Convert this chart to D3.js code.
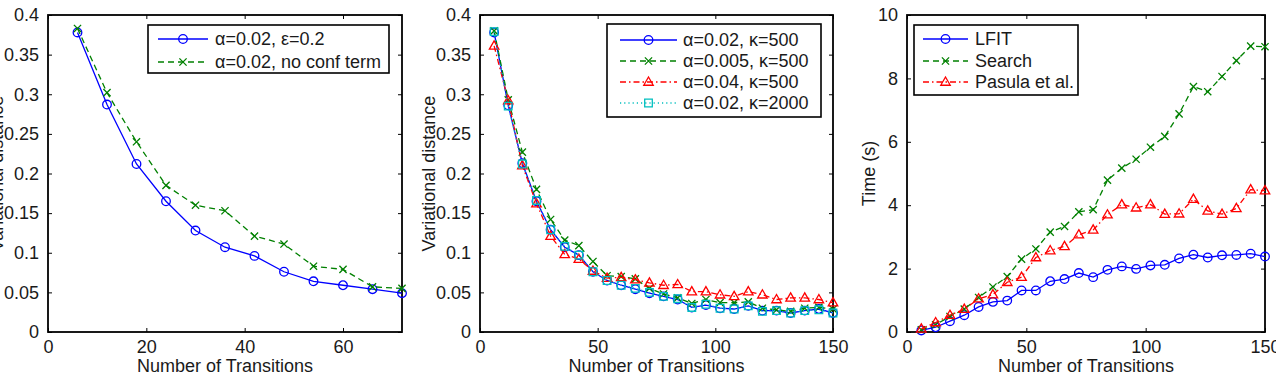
<!DOCTYPE html>
<html>
<head>
<meta charset="utf-8">
<script src="https://cdn.jsdelivr.net/npm/d3@7"></script>
<style>
  html, body { margin: 0; padding: 0; background: #fff; overflow: hidden; }
  svg { display: block; font-family: "Liberation Sans", Arial, Helvetica, sans-serif; }
</style>
</head>
<body>
<svg id="chart" width="1276" height="375"></svg>
<script>
// ---------- DATA ----------
const transitionsA = [6, 12, 18, 24, 30, 36, 42, 48, 54, 60, 66, 72];
const transitionsB = [6, 12, 18, 24, 30, 36, 42, 48, 54, 60, 66, 72, 78, 84, 90, 96, 102, 108, 114, 120, 126, 132, 138, 144, 150];

// Panel 1
const p1_eps02   = [0.378, 0.287, 0.212, 0.165, 0.128, 0.107, 0.096, 0.076, 0.064, 0.059, 0.054, 0.049];
const p1_noConf  = [0.383, 0.302, 0.240, 0.185, 0.160, 0.153, 0.121, 0.111, 0.083, 0.079, 0.057, 0.055];

// Panel 2
const p2_a002_k500  = [0.378, 0.286, 0.213, 0.165, 0.129, 0.107, 0.097, 0.076, 0.065, 0.059, 0.054, 0.049, 0.045, 0.041, 0.031, 0.034, 0.030, 0.029, 0.033, 0.027, 0.027, 0.024, 0.027, 0.029, 0.024];
const p2_a0005_k500 = [0.380, 0.293, 0.227, 0.180, 0.142, 0.116, 0.109, 0.089, 0.071, 0.070, 0.067, 0.055, 0.048, 0.043, 0.036, 0.041, 0.037, 0.037, 0.038, 0.030, 0.028, 0.026, 0.030, 0.031, 0.029];
const p2_a004_k500  = [0.361, 0.292, 0.210, 0.162, 0.121, 0.098, 0.092, 0.077, 0.068, 0.069, 0.066, 0.062, 0.059, 0.060, 0.051, 0.051, 0.047, 0.045, 0.051, 0.047, 0.041, 0.043, 0.043, 0.041, 0.037];
const p2_a002_k2000 = [0.379, 0.285, 0.212, 0.166, 0.129, 0.108, 0.097, 0.076, 0.065, 0.059, 0.055, 0.050, 0.045, 0.042, 0.031, 0.035, 0.030, 0.029, 0.033, 0.026, 0.027, 0.024, 0.027, 0.028, 0.024];

// Panel 3
const p3_lfit   = [0.05, 0.15, 0.34, 0.53, 0.79, 0.95, 0.99, 1.31, 1.31, 1.60, 1.67, 1.86, 1.73, 1.96, 2.07, 1.99, 2.10, 2.12, 2.32, 2.44, 2.35, 2.42, 2.43, 2.47, 2.38];
const p3_search = [0.07, 0.23, 0.49, 0.72, 1.09, 1.42, 1.75, 2.30, 2.62, 3.15, 3.33, 3.79, 3.86, 4.79, 5.17, 5.45, 5.83, 6.17, 6.88, 7.74, 7.58, 8.06, 8.56, 9.02, 9.00];
const p3_pasula = [0.10, 0.30, 0.53, 0.72, 1.05, 1.18, 1.57, 1.73, 2.35, 2.57, 2.70, 3.07, 3.22, 3.70, 4.02, 3.92, 4.02, 3.72, 3.73, 4.19, 3.82, 3.72, 3.90, 4.49, 4.46];

// Ticks
const xTicksA = [0, 20, 40, 60];
const xTicksB = [0, 50, 100, 150];
const yTicksDist = [0, 0.05, 0.1, 0.15, 0.2, 0.25, 0.3, 0.35, 0.4];
const yTickLabelsDist = ["0", "0.05", "0.1", "0.15", "0.2", "0.25", "0.3", "0.35", "0.4"];
const yTicksTime = [0, 2, 4, 6, 8, 10];
const yTickLabelsTime = ["0", "2", "4", "6", "8", "10"];

// Text
const xTitle = "Number of Transitions";
const yTitleDist = "Variational distance";
const yTitleTime = "Time (s)";
const legend1 = ["α=0.02, ε=0.2", "α=0.02, no conf term"];
const legend2 = ["α=0.02, κ=500", "α=0.005, κ=500", "α=0.04, κ=500", "α=0.02, κ=2000"];
const legend3 = ["LFIT", "Search", "Pasula et al."];

// ---------- STYLES ----------
const S = {
  blue:  { color: "#0000ff", dash: null,        marker: "circle"   },
  green: { color: "#008000", dash: "6,4",       marker: "cross"    },
  red:   { color: "#ff0000", dash: "6,3,1.5,3", marker: "triangle" },
  cyan:  { color: "#00bfbf", dash: "1.2,3",     marker: "square"   }
};

const svg = d3.select("#chart");
const FONT = 18;
const TEXT = "#1a1a1a";

function markerPath(type, x, y) {
  const p = d3.path();
  if (type === "circle") {
    const r = 4.3;
    p.moveTo(x + r, y); p.arc(x, y, r, 0, 2 * Math.PI);
  } else if (type === "cross") {
    const r = 3.6;
    p.moveTo(x - r, y - r); p.lineTo(x + r, y + r);
    p.moveTo(x - r, y + r); p.lineTo(x + r, y - r);
  } else if (type === "triangle") {
    const r = 5;
    p.moveTo(x, y - r); p.lineTo(x + r * 0.95, y + r * 0.65); p.lineTo(x - r * 0.95, y + r * 0.65); p.closePath();
  } else if (type === "square") {
    const r = 3.8;
    p.rect(x - r, y - r, 2 * r, 2 * r);
  }
  return p.toString();
}

function drawPanel(cfg) {
  const g = svg.append("g");
  const x = d3.scaleLinear().domain(cfg.xDomain).range([cfg.left, cfg.right]);
  const y = d3.scaleLinear().domain(cfg.yDomain).range([cfg.bottom, cfg.top]);
  const tl = 4;

  // axes via d3 axis generators (inward ticks)
  const axB = d3.axisBottom(x).tickValues(cfg.xTicks).tickSize(-tl).tickPadding(tl + 4).tickFormat(d3.format("d"));
  const axT = d3.axisTop(x).tickValues(cfg.xTicks).tickSize(-tl).tickFormat("");
  const axL = d3.axisLeft(y).tickValues(cfg.yTicks).tickSize(-tl).tickPadding(tl + 5).tickFormat((d, i) => cfg.yLabels[i]);
  const axR = d3.axisRight(y).tickValues(cfg.yTicks).tickSize(-tl).tickFormat("");

  const style = sel => {
    sel.select(".domain").remove();
    sel.selectAll(".tick line").attr("stroke", "#000").attr("stroke-width", 1);
    sel.selectAll(".tick text").attr("fill", TEXT).style("font-size", FONT + "px")
      .style("font-family", '"Liberation Sans", Arial, sans-serif');
  };
  g.append("g").attr("transform", `translate(0,${cfg.bottom})`).call(axB).call(style);
  g.append("g").attr("transform", `translate(0,${cfg.top})`).call(axT).call(style);
  g.append("g").attr("transform", `translate(${cfg.left},0)`).call(axL).call(style);
  g.append("g").attr("transform", `translate(${cfg.right},0)`).call(axR).call(style);

  g.append("rect")
    .attr("x", cfg.left).attr("y", cfg.top)
    .attr("width", cfg.right - cfg.left).attr("height", cfg.bottom - cfg.top)
    .attr("fill", "none").attr("stroke", "#000").attr("stroke-width", 1.8);

  // titles
  g.append("text").attr("x", (cfg.left + cfg.right) / 2).attr("y", 372)
    .attr("text-anchor", "middle").attr("fill", TEXT).style("font-size", FONT + "px").text(xTitle);
  g.append("text")
    .attr("transform", `translate(${cfg.yTitleX},${(cfg.top + cfg.bottom) / 2}) rotate(-90)`)
    .attr("text-anchor", "middle").attr("fill", TEXT).style("font-size", FONT + "px").text(cfg.yTitle);

  // series
  const line = d3.line().x(d => x(d[0])).y(d => y(d[1]));
  cfg.series.forEach(s => {
    const pts = cfg.xs.map((v, i) => [v, s.values[i]]);
    const st = S[s.style];
    g.append("path").attr("d", line(pts)).attr("fill", "none")
      .attr("stroke", st.color).attr("stroke-width", 1.3)
      .attr("stroke-dasharray", st.dash);
    g.append("g").selectAll("path").data(pts).join("path")
      .attr("d", d => markerPath(st.marker, x(d[0]), y(d[1])))
      .attr("fill", "none").attr("stroke", st.color).attr("stroke-width", 1.3);
  });

  // legend
  const L = cfg.legend;
  g.append("rect").attr("x", L.x0).attr("y", L.y0).attr("width", L.x1 - L.x0).attr("height", L.y1 - L.y0)
    .attr("fill", "#fff").attr("stroke", "#000").attr("stroke-width", 1.6);
  cfg.series.forEach((s, i) => {
    const st = S[s.style];
    const ry = L.rows[i];
    g.append("line").attr("x1", L.lx0).attr("x2", L.lx1).attr("y1", ry).attr("y2", ry)
      .attr("stroke", st.color).attr("stroke-width", 1.3).attr("stroke-dasharray", st.dash);
    g.append("path").attr("d", markerPath(st.marker, (L.lx0 + L.lx1) / 2, ry))
      .attr("fill", "none").attr("stroke", st.color).attr("stroke-width", 1.3);
    g.append("text").attr("x", L.tx).attr("y", ry).attr("dy", "0.35em")
      .attr("fill", TEXT).style("font-size", FONT + "px").text(s.label);
  });
}

drawPanel({
  left: 48, right: 402, top: 15, bottom: 332,
  xDomain: [0, 72], yDomain: [0, 0.4],
  xTicks: xTicksA, yTicks: yTicksDist, yLabels: yTickLabelsDist,
  yTitle: yTitleDist, yTitleX: 3,
  xs: transitionsA,
  series: [
    { values: p1_eps02,  style: "blue",  label: legend1[0] },
    { values: p1_noConf, style: "green", label: legend1[1] }
  ],
  legend: { x0: 148, x1: 389, y0: 25, y1: 73, rows: [39, 62], lx0: 158, lx1: 208, tx: 215 }
});

drawPanel({
  left: 480, right: 833, top: 15, bottom: 332,
  xDomain: [0, 150], yDomain: [0, 0.4],
  xTicks: xTicksB, yTicks: yTicksDist, yLabels: yTickLabelsDist,
  yTitle: yTitleDist, yTitleX: 435,
  xs: transitionsB,
  series: [
    { values: p2_a002_k500,  style: "blue",  label: legend2[0] },
    { values: p2_a0005_k500, style: "green", label: legend2[1] },
    { values: p2_a004_k500,  style: "red",   label: legend2[2] },
    { values: p2_a002_k2000, style: "cyan",  label: legend2[3] }
  ],
  legend: { x0: 607, x1: 821, y0: 24, y1: 117, rows: [40, 61, 82, 103], lx0: 620, lx1: 677, tx: 683 }
});

drawPanel({
  left: 907, right: 1265, top: 15, bottom: 332,
  xDomain: [0, 150], yDomain: [0, 10],
  xTicks: xTicksB, yTicks: yTicksTime, yLabels: yTickLabelsTime,
  yTitle: yTitleTime, yTitleX: 875,
  xs: transitionsB,
  series: [
    { values: p3_lfit,   style: "blue",  label: legend3[0] },
    { values: p3_search, style: "green", label: legend3[1] },
    { values: p3_pasula, style: "red",   label: legend3[2] }
  ],
  legend: { x0: 914, x1: 1078, y0: 25, y1: 95, rows: [39, 61, 82], lx0: 923, lx1: 968, tx: 975 }
});
</script>
</body>
</html>
